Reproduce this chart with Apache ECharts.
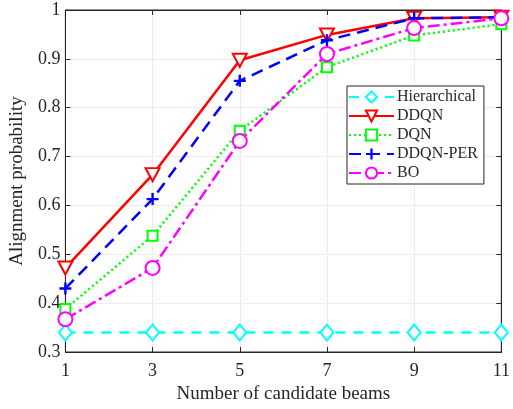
<!DOCTYPE html>
<html>
<head>
<meta charset="utf-8">
<script src="https://cdn.jsdelivr.net/npm/echarts@6/dist/echarts.min.js"></script>
<style>
    html, body { margin: 0; padding: 0; background: #fff; }
    #main { width: 513px; height: 409px; }
</style>
</head>
<body>
<div id="main"></div>
<script>
var beams = ['1', '3', '5', '7', '9', '11'];
var hierarchical = [0.34, 0.34, 0.34, 0.34, 0.34, 0.34];
var ddqn = [0.472, 0.663, 0.897, 0.949, 0.983, 0.985];
var dqn = [0.388, 0.538, 0.753, 0.883, 0.948, 0.971];
var ddqnPer = [0.430, 0.613, 0.855, 0.938, 0.983, 0.985];
var bo = [0.367, 0.472, 0.732, 0.910, 0.963, 0.983];

var FONT = '"Liberation Serif", "Times New Roman", serif';
var plus = 'path://M4,0h2v4h4v2h-4v4h-2v-4h-4v-2h4z';

function line(name, data, color, dash, symbol, size, hollow) {
    return {
        name: name,
        type: 'line',
        data: data,
        symbol: symbol,
        symbolSize: size,
        symbolRotate: symbol === 'triangle' ? 180 : 0,
        showAllSymbol: true,
        lineStyle: { color: color, width: 2.5, type: dash },
        itemStyle: hollow ? { color: '#fff', borderColor: color, borderWidth: 2 } : { color: color, borderWidth: 0 },
        emphasis: { disabled: true }
    };
}

var myChart = echarts.init(document.getElementById('main'));
var option = {
    animation: false,
    textStyle: { fontFamily: FONT },
    grid: { left: 60, right: 9, top: 10, bottom: 54, show: true, borderColor: '#262626', borderWidth: 1 },
    legend: {
        orient: 'vertical',
        left: 347,
        top: 86,
        itemWidth: 45,
        itemHeight: 14,
        itemGap: 3,
        padding: [3, 6, 3, 1],
        backgroundColor: '#fff',
        borderColor: '#262626',
        borderWidth: 1,
        textStyle: { fontFamily: FONT, fontSize: 16, color: '#262626', padding: [0, 0, 0, -2] },
        data: ['Hierarchical', 'DDQN', 'DQN', 'DDQN-PER', 'BO']
    },
    xAxis: [{
        type: 'category',
        data: beams,
        boundaryGap: false,
        name: 'Number of candidate beams',
        nameLocation: 'middle',
        nameGap: 33,
        nameTextStyle: { fontSize: 19, color: '#262626', fontFamily: FONT },
        axisLine: { lineStyle: { color: '#262626' } },
        axisTick: { inside: true, length: 5, lineStyle: { color: '#262626' } },
        axisLabel: { fontSize: 18, color: '#262626', margin: 10, fontFamily: FONT },
        splitLine: { show: true, lineStyle: { color: '#dcdcdc', type: 'dotted' } }
    }, {
        type: 'category',
        data: beams,
        boundaryGap: false,
        position: 'top',
        axisLine: { lineStyle: { color: '#262626' } },
        axisTick: { inside: true, length: 5, lineStyle: { color: '#262626' } },
        axisLabel: { show: false }
    }],
    yAxis: [{
        type: 'value',
        min: 0.3,
        max: 1,
        interval: 0.1,
        name: 'Alignment probability',
        nameLocation: 'middle',
        nameGap: 36,
        nameTextStyle: { fontSize: 19, color: '#262626', fontFamily: FONT },
        axisLine: { show: true, lineStyle: { color: '#262626' } },
        axisTick: { show: true, inside: true, length: 5, lineStyle: { color: '#262626' } },
        axisLabel: { fontSize: 18, color: '#262626', margin: 5, fontFamily: FONT,
            formatter: function (v) { return Math.abs(v - 1) < 1e-9 ? '1' : v.toFixed(1); } },
        splitLine: { show: true, lineStyle: { color: '#dcdcdc', type: 'dotted' } }
    }, {
        type: 'value',
        min: 0.3,
        max: 1,
        interval: 0.1,
        position: 'right',
        axisLine: { show: true, lineStyle: { color: '#262626' } },
        axisTick: { show: true, inside: true, length: 5, lineStyle: { color: '#262626' } },
        axisLabel: { show: false },
        splitLine: { show: false }
    }],
    series: [
        line('Hierarchical', hierarchical, '#00ffff', [10, 8], 'diamond', [13, 16], true),
        line('DDQN', ddqn, '#ff0000', 'solid', 'triangle', [14, 13], true),
        line('DQN', dqn, '#00ff00', [2, 3], 'rect', 10, true),
        line('DDQN-PER', ddqnPer, '#0000ff', [12, 7], plus, 12, false),
        line('BO', bo, '#ff00ff', [12, 4, 3, 4], 'circle', 14, true)
    ]
};
myChart.setOption(option);
</script>
</body>
</html>
